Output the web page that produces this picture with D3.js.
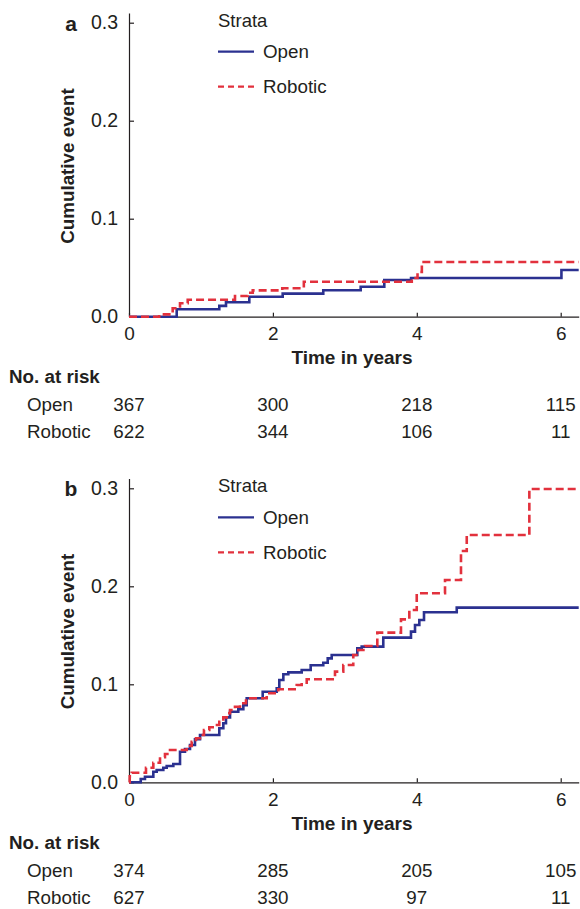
<!DOCTYPE html>
<html>
<head>
<meta charset="utf-8">
<script src="https://cdn.jsdelivr.net/npm/d3@7"></script>
<style>
  body { margin: 0; background: #fff; }
  svg text { font-family: "Liberation Sans", Arial, Helvetica, sans-serif; fill: #231f20; }
</style>
</head>
<body>
<div id="chart"></div>
<script>
// 数据
const xTicks = [0, 2, 4, 6];
const yTicks = [0, 0.1, 0.2, 0.3];
const strata = ["Open", "Robotic"];

// panel a
const openTimesA = [0.663, 1.255, 1.348, 1.672, 2.136, 2.70, 3.22, 3.548, 3.92, 6.01];
const openCumA = [0.0076, 0.011, 0.0147, 0.0204, 0.0235, 0.027, 0.0306, 0.0374, 0.0395, 0.0477];
const roboticTimesA = [0.42, 0.607, 0.709, 0.816, 1.473, 1.65, 1.72, 2.13, 2.43, 3.93, 4.01, 4.07];
const roboticCumA = [0.0024, 0.0086, 0.0137, 0.0173, 0.0211, 0.0245, 0.0269, 0.029, 0.0357, 0.0395, 0.0456, 0.0558];
const openRiskA = [367, 300, 218, 115];
const roboticRiskA = [622, 344, 106, 11];

// panel b
const openTimesB = [0.163, 0.222, 0.338, 0.385, 0.477, 0.524, 0.616, 0.709, 0.778, 0.848, 0.917, 0.987,
  1.255, 1.311, 1.348, 1.404, 1.519, 1.589, 1.636, 1.858, 2.053, 2.089, 2.145, 2.214, 2.40, 2.525,
  2.70, 2.762, 2.817, 3.173, 3.234, 3.534, 3.919, 3.975, 4.035, 4.10, 4.555];
const openCumB = [0.0034, 0.0057, 0.0108, 0.0126, 0.0149, 0.0166, 0.0187, 0.0312, 0.034, 0.038, 0.0439, 0.0483,
  0.0551, 0.0602, 0.0663, 0.072, 0.0745, 0.0786, 0.0857, 0.0924, 0.0959, 0.1044, 0.1102, 0.1122, 0.1146, 0.1194,
  0.122, 0.1265, 0.1299, 0.1367, 0.1384, 0.1476, 0.1537, 0.1605, 0.1656, 0.1735, 0.1782];
const roboticTimesB = [0.01, 0.038, 0.236, 0.338, 0.431, 0.50, 0.57, 0.802, 0.871, 0.931, 0.987, 1.042,
  1.116, 1.186, 1.255, 1.311, 1.358, 1.404, 1.473, 1.543, 1.626, 1.914, 2.075, 2.331, 2.40, 2.47,
  2.863, 2.978, 3.117, 3.187, 3.28, 3.451, 3.78, 3.896, 3.999, 4.392, 4.614, 4.694, 5.564];
const roboticCumB = [0.006, 0.0098, 0.0149, 0.02, 0.0255, 0.0289, 0.033, 0.037, 0.0414, 0.0449, 0.0483, 0.0534,
  0.0561, 0.0585, 0.0618, 0.0663, 0.0704, 0.0738, 0.0771, 0.0806, 0.0857, 0.0908, 0.0949, 0.0993, 0.1016, 0.1051,
  0.1129, 0.1197, 0.1299, 0.135, 0.1391, 0.1527, 0.1663, 0.1758, 0.1929, 0.2064, 0.236, 0.2523, 0.2993];
const openRiskB = [374, 285, 205, 105];
const roboticRiskB = [627, 330, 97, 11];

const width = 580, height = 909;
const xMax = 6.25;
const blue = "#2b3190", red = "#e2313d";

const svg = d3.select("#chart").append("svg")
  .attr("width", width)
  .attr("height", height);

const x = d3.scaleLinear().domain([0, xMax]).range([129, 578.7]);

// 阶梯曲线
function stepPoints(times, cums) {
  const pts = [[0, 0]];
  times.forEach((t, i) => pts.push([t, cums[i]]));
  pts.push([xMax, cums[cums.length - 1]]);
  return pts;
}

function drawPanel(top, letter, openT, openC, robT, robC, openRisk, robRisk) {
  const g = svg.append("g").attr("transform", `translate(0,${top})`);
  const y = d3.scaleLinear().domain([0, 0.31]).range([316.7, 12.9]);

  g.append("g")
    .attr("transform", `translate(${x(0)},0)`)
    .call(d3.axisLeft(y).tickValues(yTicks).tickFormat(d3.format(".1f"))
      .tickSizeInner(-5).tickSizeOuter(0).tickPadding(11))
    .call(a => a.selectAll("text").style("font-size", "19.5px").attr("fill", "#231f20"));

  g.append("g")
    .attr("transform", `translate(0,${y(0)})`)
    .call(d3.axisBottom(x).tickValues(xTicks).tickFormat(d3.format("d"))
      .tickSizeInner(-4).tickSizeOuter(0).tickPadding(10))
    .call(a => a.selectAll("text").style("font-size", "19px").attr("fill", "#231f20"));

  g.selectAll(".domain, .tick line").attr("stroke", "#231f20").attr("stroke-width", 1.2);

  const line = d3.line()
    .x(d => x(d[0]))
    .y(d => y(d[1]))
    .curve(d3.curveStepAfter);

  g.append("path")
    .attr("d", line(stepPoints(openT, openC)))
    .attr("fill", "none")
    .attr("stroke", blue)
    .attr("stroke-width", 2.6);

  g.append("path")
    .attr("d", line(stepPoints(robT, robC)))
    .attr("fill", "none")
    .attr("stroke", red)
    .attr("stroke-width", 2.6)
    .attr("stroke-dasharray", "8,4");

  // 字母
  g.append("text")
    .attr("x", 71).attr("y", 30.7)
    .attr("text-anchor", "middle")
    .style("font-size", "21px").style("font-weight", "bold")
    .text(letter);

  g.append("text")
    .attr("transform", "translate(74,166) rotate(-90)")
    .attr("text-anchor", "middle")
    .style("font-size", "18.8px").style("font-weight", "bold")
    .text("Cumulative event");

  g.append("text")
    .attr("x", 352).attr("y", 364)
    .attr("text-anchor", "middle")
    .style("font-size", "19px").style("font-weight", "bold")
    .text("Time in years");

  // 图例
  g.append("text").attr("x", 218).attr("y", 26.7)
    .style("font-size", "18.5px").text("Strata");
  const leg = g.selectAll(".leg").data(strata).join("g")
    .attr("transform", (d, i) => `translate(218,${51.7 + i * 35})`);
  leg.append("line")
    .attr("x1", 0).attr("x2", 36)
    .attr("stroke", (d, i) => i ? red : blue)
    .attr("stroke-width", 2.2)
    .attr("stroke-dasharray", (d, i) => i ? "6,4" : null);
  leg.append("text")
    .attr("x", 45).attr("dy", "0.35em")
    .style("font-size", "18.8px")
    .text(d => d);

  // 风险表
  g.append("text").attr("x", 9).attr("y", 383)
    .style("font-size", "18.8px").style("font-weight", "bold")
    .text("No. at risk");
  [openRisk, robRisk].forEach((row, r) => {
    const yy = 411 + r * 27;
    g.append("text").attr("x", 27).attr("y", yy)
      .style("font-size", "18.8px").text(strata[r]);
    g.selectAll(null).data(row).join("text")
      .attr("x", (d, i) => x(xTicks[i]))
      .attr("y", yy)
      .attr("text-anchor", "middle")
      .style("font-size", "18.8px")
      .text(d => d);
  });
}

drawPanel(0, "a", openTimesA, openCumA, roboticTimesA, roboticCumA, openRiskA, roboticRiskA);
drawPanel(465.6, "b", openTimesB, openCumB, roboticTimesB, roboticCumB, openRiskB, roboticRiskB);
</script>
</body>
</html>
